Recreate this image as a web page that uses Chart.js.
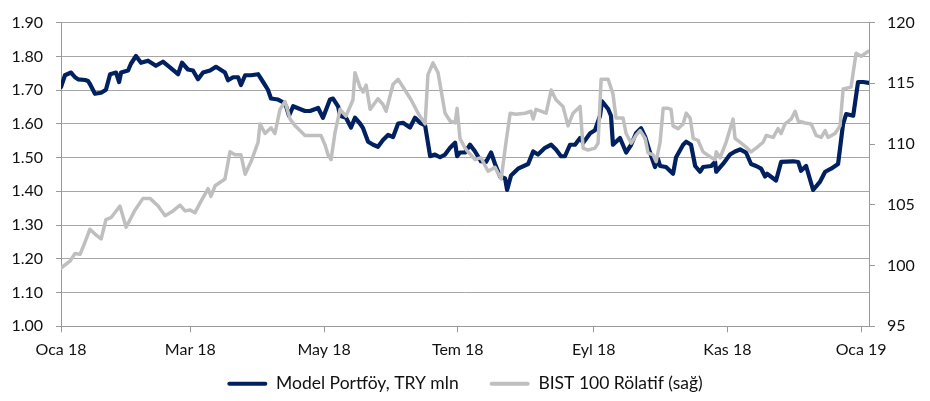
<!DOCTYPE html>
<html>
<head>
<meta charset="utf-8">
<script src="https://cdn.jsdelivr.net/npm/chart.js@4/dist/chart.umd.min.js"></script>
<style>
  html, body { margin: 0; padding: 0; background: #ffffff; }
  #wrap { width: 930px; height: 401px; }
</style>
</head>
<body>
<div id="wrap"><canvas id="c" width="930" height="401"></canvas></div>
<script>
// X positions are days since 1 Jan 2018
const monthTickDays = [0, 59, 120, 181, 243, 304, 365];
const monthTickLabels = ["Oca 18", "Mar 18", "May 18", "Tem 18", "Eyl 18", "Kas 18", "Oca 19"];

const seriesNames = ["Model Portföy, TRY mln", "BIST 100 Rölatif (sağ)"];

const portfolioDays = [0,1.8,4.6,6.4,7.8,11,12.3,13.2,15.5,18.3,
20.5,22.4,25.1,26.5,27.4,30.6,31.9,34.2,36.5,39.7,
43.3,46.5,49.7,53.4,55.2,57.9,60.2,62.5,64.8,68,
70.7,74.8,76.2,78.5,80.8,82.1,84,86.7,89.9,92.2,
94.4,95.8,99,101.3,102.7,104,105.9,109,111.3,113.6,
117.3,119.5,122.7,124.1,126.4,127.3,130,132.3,134.1,136.4,
137.8,140.1,142.4,144.6,146.9,149.2,151.5,153.8,156,159.2,
161.5,163.8,166.1,168.4,170.6,172.9,175.2,177.5,179.8,180.7,
182,184.3,186.6,188.9,191.6,193.9,196.2,198,200.3,202.6,
203.5,205.3,208.5,213.1,215.4,217.6,220.8,223.6,225.8,228.1,
229.9,232.2,234.5,236.8,238.2,241.4,243.6,245.9,246.8,249.6,
250.9,251.8,255,257.8,260.1,262.3,264.6,266.5,268.7,271,
272.4,273.3,276,279.2,280.6,283.8,285.2,287.4,289.3,291.5,
292.9,296.6,298.4,298.9,302,305.2,307.5,309.8,312.5,314.8,
317.1,319.4,321.2,322.1,326.2,328.5,334,336.3,337.6,339.9,
343.1,346.3,348.6,351.3,354.5,356.8,358.2,361.4,363.6,365.9,
368.6];
const portfolioValues = [1.709,1.744,1.752,1.738,1.732,1.730,1.727,1.718,1.689,1.692,
1.701,1.747,1.752,1.724,1.752,1.758,1.778,1.801,1.781,1.787,
1.772,1.784,1.767,1.747,1.781,1.761,1.758,1.732,1.752,1.758,
1.769,1.752,1.729,1.738,1.738,1.715,1.744,1.744,1.747,1.724,
1.701,1.675,1.672,1.664,1.652,1.624,1.652,1.644,1.638,1.638,
1.647,1.618,1.672,1.675,1.652,1.624,1.618,1.589,1.618,1.601,
1.587,1.547,1.538,1.532,1.552,1.567,1.561,1.601,1.603,1.589,
1.618,1.603,1.595,1.504,1.509,1.501,1.509,1.529,1.544,1.504,
1.515,1.515,1.538,1.518,1.489,1.487,1.515,1.481,1.444,1.438,
1.404,1.447,1.467,1.481,1.518,1.509,1.529,1.538,1.524,1.504,
1.504,1.538,1.538,1.558,1.544,1.572,1.581,1.624,1.667,1.644,
1.624,1.538,1.558,1.515,1.538,1.572,1.587,1.561,1.515,1.472,
1.495,1.475,1.472,1.452,1.501,1.538,1.547,1.538,1.475,1.458,
1.472,1.475,1.487,1.458,1.481,1.509,1.518,1.524,1.515,1.481,
1.475,1.467,1.444,1.452,1.432,1.487,1.489,1.487,1.461,1.475,
1.404,1.429,1.458,1.467,1.481,1.601,1.629,1.624,1.724,1.724,
1.721];

const bistDays = [0,4.1,6.4,8.7,11,13.2,15.5,18.3,20.5,22.8,
26.9,29.7,33.8,37.4,40.6,44.3,47.5,51.1,54.3,56.6,
58.9,61.1,63.4,67.1,68.4,70.3,74.8,77.1,79.4,82.1,
84,86.7,89.9,90.8,93.1,95.8,97.6,99.9,102.2,104.5,
106.8,109,111.3,118.6,120.5,121.8,123.2,125,127.3,130,
133.2,134.1,136.4,137.8,139.2,141,144.6,146.9,148.3,151.5,
153.8,156.9,159.7,162.9,166.1,167.4,169.7,172,175.2,177.5,
179.8,180.7,182,184.3,185.7,188.9,191.6,194.8,198,200.8,
203,204.9,207.6,211.7,214.4,215.4,216.7,221.3,223.6,225.8,
229,231.3,233.6,236.8,238.2,240.4,243.6,245,246.4,249.6,
251.8,253.2,256.4,257.8,260.1,262.3,264.2,266.5,267.8,270.1,
271.5,273.3,274.7,277,278.3,279.2,281.5,283.8,285.2,287,
288.4,290.6,292.9,296.1,298.4,298.9,300.7,303.4,306.6,307.5,
310.3,312.5,314.8,317.1,320.3,321.7,324.9,327.1,328.5,330.3,
333.1,334.9,336.3,339.5,342.2,344.5,346.8,348.6,349.9,353.1,
355.4,356.8,360.4,362.7,365,368.2];
const bistValues = [99.80,100.36,101.0,100.92,101.95,102.99,102.59,102.19,103.78,103.94,
104.90,103.15,104.58,105.53,105.53,104.90,104.10,104.50,104.98,104.50,
104.58,104.34,105.14,106.33,105.69,106.57,107.13,109.36,109.12,109.12,
107.52,108.56,110.15,111.66,110.87,111.34,110.87,112.86,113.50,112.06,
111.50,111.11,110.71,110.71,109.91,109.12,108.72,110.95,112.86,112.30,
113.65,115.88,114.69,114.29,114.85,112.86,113.73,113.26,112.70,114.93,
115.33,114.45,113.65,112.54,111.66,115.72,116.68,115.88,112.54,111.90,
111.74,112.94,110.47,109.67,109.36,108.72,108.88,107.76,108.08,107.13,
110.15,112.54,112.46,112.54,112.70,112.06,112.86,112.54,114.45,113.65,
113.10,111.50,112.54,113.10,109.67,109.51,109.67,110.07,115.33,115.33,
114.13,112.14,112.14,110.87,110.07,110.71,111.11,110.47,109.28,109.12,
108.56,110.15,112.94,112.94,112.86,111.50,111.27,111.66,112.54,112.14,
110.47,110.31,109.36,108.96,108.72,109.36,108.88,110.15,112.06,110.47,
110.07,109.75,109.36,109.67,110.15,110.71,110.55,111.27,110.87,111.66,
112.06,112.70,111.90,111.74,111.66,110.71,110.55,111.11,110.55,110.87,
111.50,114.53,114.69,117.48,117.23,117.63];

const FONT = 'Lato';
const GRID = '#a6a6a6';
const AXIS = '#999999';
const TEXT = '#111111';

const toXY = (xs, ys) => xs.map((x, i) => ({ x: x, y: ys[i] }));

const chart = new Chart(document.getElementById('c'), {
  type: 'line',
  data: {
    datasets: [
      {
        label: seriesNames[1],
        data: toXY(bistDays, bistValues),
        yAxisID: 'y2',
        borderColor: '#bfbfbf',
        backgroundColor: '#bfbfbf',
        borderWidth: 3.5,
        pointRadius: 0,
        tension: 0,
        borderJoinStyle: 'round',
        borderCapStyle: 'round'
      },
      {
        label: seriesNames[0],
        data: toXY(portfolioDays, portfolioValues),
        yAxisID: 'y',
        borderColor: '#002060',
        backgroundColor: '#002060',
        borderWidth: 4.2,
        pointRadius: 0,
        tension: 0,
        borderJoinStyle: 'round',
        borderCapStyle: 'round'
      }
    ]
  },
  options: {
    responsive: false,
    animation: false,
    devicePixelRatio: 1,
    layout: { padding: { top: 13, left: 0, right: 0, bottom: -1.5 } },
    plugins: {
      tooltip: { enabled: false },
      legend: {
        position: 'bottom',
        labels: {
          font: { family: FONT, size: 17.5 },
          color: TEXT,
          boxWidth: 40,
          boxHeight: 4,
          padding: 31,
          sort: (a, b) => b.datasetIndex - a.datasetIndex,
          generateLabels: (ch) => {
            const items = Chart.defaults.plugins.legend.labels.generateLabels(ch);
            items.forEach(it => { it.lineWidth = 0; it.borderRadius = 2; });
            return items;
          }
        }
      }
    },
    scales: {
      x: {
        type: 'linear',
        min: 0,
        max: 368.6,
        afterBuildTicks: (s) => { s.ticks = monthTickDays.map(v => ({ value: v })); },
        afterFit: (s) => { s.height = 17.7; },
        ticks: {
          autoSkip: false,
          maxRotation: 0,
          mirror: true,
          padding: -32.8,
          font: { family: FONT, size: 16 },
          color: TEXT,
          callback: (v) => {
            const i = monthTickDays.indexOf(v);
            return i >= 0 ? monthTickLabels[i] : '';
          }
        },
        grid: { drawOnChartArea: false, tickLength: 6, color: AXIS, tickColor: AXIS },
        border: { display: true, color: AXIS, width: 1 }
      },
      y: {
        position: 'left',
        min: 1.0,
        max: 1.9,
        afterFit: (s) => { s.width = 61; },
        ticks: {
          stepSize: 0.1,
          padding: 13,
          font: { family: FONT, size: 16 },
          color: TEXT,
          callback: (v) => Number(v).toFixed(2)
        },
        grid: { color: GRID, tickLength: 5, tickColor: AXIS, lineWidth: 1 },
        border: { display: true, color: AXIS, width: 1 }
      },
      y2: {
        position: 'right',
        min: 95,
        max: 120,
        afterFit: (s) => { s.width = 61; },
        ticks: {
          stepSize: 5,
          padding: 12,
          font: { family: FONT, size: 16 },
          color: TEXT
        },
        grid: { drawOnChartArea: false, tickLength: 6, color: AXIS, tickColor: AXIS },
        border: { display: true, color: AXIS, width: 1 }
      }
    }
  }
});
</script>
</body>
</html>
